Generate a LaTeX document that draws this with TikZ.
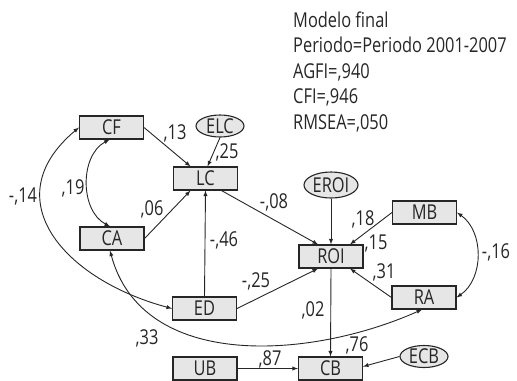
\documentclass[tikz,border=0pt]{standalone}
\usepackage{fontspec}
\setmainfont{Open Sans}[FakeStretch=0.8]
\usepackage{tikz}
\usetikzlibrary{shapes.geometric}
\definecolor{boxgray}{HTML}{E6E6E6}
\definecolor{ink}{HTML}{262626}
\newcommand{\semfont}{\fontsize{20.5bp}{25.5bp}\selectfont}
\tikzset{
    var/.style={draw=ink, fill=boxgray, line width=1.1bp,
        minimum width=64bp, minimum height=23bp, inner sep=0pt},
    err/.style={ellipse, draw=ink, fill=boxgray, line width=1.1bp,
        minimum width=48bp, minimum height=22bp, inner sep=0pt},
    effect/.style={draw=ink, line width=0.9bp, -latex},
    covar/.style={draw=ink, line width=0.9bp, latex-latex},
    coef/.style={inner sep=0pt}
}

\begin{document}
\begin{tikzpicture}[x=1bp, y=-1bp, every node/.style={font=\semfont, text=ink}]
\useasboundingbox (0,0) rectangle (517,380);
% observed variables
\node[var] (CF) at (111.5,127.5) {CF};
\node[var] (CA) at (112,238.5) {CA};
\node[var] (LC) at (205.5,178.5) {LC};
\node[var] (ED) at (204.5,308.5) {ED};
\node[var] (ROI) at (331,256.5) {ROI};
\node[var] (MB) at (424.5,212.5) {MB};
\node[var] (RA) at (424,297.5) {RA};
\node[var] (UB) at (205,368.5) {UB};
\node[var] (CB) at (330.5,368.5) {CB};
% error terms
\node[err] (ELC) at (220,126) {ELC};
\node[err, minimum width=54bp, minimum height=26bp] (EROI) at (331,185) {EROI};
\node[err] (ECB) at (424,356.5) {ECB};

% fit indices
\node[anchor=north west, align=left, inner sep=0pt] (info) at (293,11.5)
  {Modelo final\\Periodo=Periodo 2001-2007\\AGFI=,940\\CFI=,946\\RMSEA=,050};

% direct effects
\draw[style={effect}] (CF.east) -- ([xshift=-15bp]LC.north);
\draw[style={effect}] (ELC.south) -- ([xshift=2bp]LC.north);
\draw[style={effect}] (CA.east) -- ([xshift=-15bp]LC.south);
\draw[style={effect}] (ED.north) -- (LC.south);
\draw[style={effect}] ([xshift=16bp]LC.south) -- ([xshift=-13bp]ROI.north);
\draw[style={effect}] (EROI.south) -- (ROI.north);
\draw[style={effect}] (MB.west) -- ([xshift=19bp]ROI.north);
\draw[style={effect}] (RA.west) -- ([xshift=19bp]ROI.south);
\draw[style={effect}] (ED.east) -- ([xshift=-13bp]ROI.south);
\draw[style={effect}] (ROI.south) -- (CB.north);
\draw[style={effect}] (UB.east) -- (CB.west);
\draw[style={effect}] (ECB.west) -- ([yshift=2bp]CB.east);

% covariances
\draw[style={covar}] ([xshift=-2bp]CF.south) to[bend right=62] ([xshift=-2bp]CA.north);
\draw[style={covar}] (CF.west) to[out=220, in=165, looseness=1.4] (ED.west);
\draw[style={covar}] ([xshift=-2bp]CA.south) to[out=-75, in=204] ([xshift=-2bp]RA.south);
\draw[style={covar}] (MB.east) to[bend left=55] (RA.east);

% coefficients
\node[coef] (kCFLC) at (175,133) {,13};
\node[coef] (kELC) at (227,152) {,25};
\node[coef] (kCFCA) at (73,188) {,19};
\node[coef] (kCFED) at (23,196) {-,14};
\node[coef] (kCALC) at (152,209) {,06};
\node[coef] (kEDLC) at (224,240) {-,46};
\node[coef] (kLCROI) at (274,202) {-,08};
\node[coef] (kMBROI) at (363,219) {,18};
\node[coef] (kROI) at (376,243) {,15};
\node[coef] (kRAROI) at (384,272) {,31};
\node[coef] (kMBRA) at (496,252) {-,16};
\node[coef] (kEDROI) at (256,281) {-,25};
\node[coef] (kROICB) at (313,310) {,02};
\node[coef] (kCARA) at (147,338) {,33};
\node[coef] (kCB) at (357,345) {,76};
\node[coef] (kUBCB) at (270,359) {,87};
\end{tikzpicture}
\end{document}
